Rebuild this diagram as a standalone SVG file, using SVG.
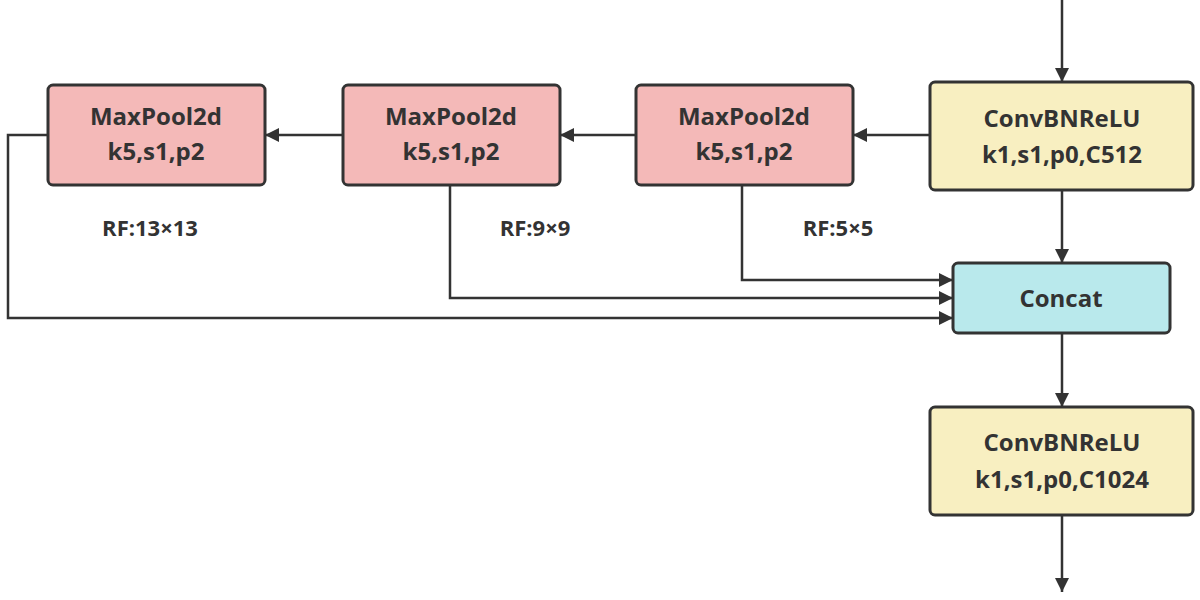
<svg xmlns="http://www.w3.org/2000/svg" width="1200" height="600" viewBox="0 0 1200 600">
<defs>
<marker id="ah" markerWidth="10" markerHeight="10" refX="9" refY="5" orient="auto" markerUnits="userSpaceOnUse"><path d="M0,0 L10,5 L0,10 z" fill="#333"/></marker>
<marker id="ah2" viewBox="0 0 10 10" markerWidth="16" markerHeight="14" refX="10" refY="5" orient="auto" markerUnits="userSpaceOnUse"><path d="M0,0 L10,5 L0,10 z" fill="#333"/></marker>
</defs>
<style>
rect{stroke:#333;stroke-width:3}
.p{fill:#f4b9b8}.y{fill:#f8efc1}.c{fill:#b9e9ec}
text{font-family:"Open Sans","Liberation Sans",sans-serif;font-weight:bold;font-size:24px;fill:#333;text-anchor:middle}
.e{fill:none;stroke:#333;stroke-width:2.5;marker-end:url(#ah2)}
</style>
<rect width="1200" height="600" fill="#fff" style="stroke:none"/>
<g id="mp1"><rect class="p" x="48" y="85" width="217" height="100" rx="5"/><text x="156" y="125">MaxPool2d</text><text x="156" y="160">k5,s1,p2</text></g>
<g id="mp2"><rect class="p" x="343" y="85" width="217" height="100" rx="5"/><text x="451" y="125">MaxPool2d</text><text x="451" y="160">k5,s1,p2</text></g>
<g id="mp3"><rect class="p" x="636" y="85" width="217" height="100" rx="5"/><text x="744" y="125">MaxPool2d</text><text x="744" y="160">k5,s1,p2</text></g>
<g id="cbr1"><rect class="y" x="930" y="82" width="263" height="108" rx="5"/><text x="1062" y="127">ConvBNReLU</text><text x="1062" y="163">k1,s1,p0,C512</text></g>
<g id="concat"><rect class="c" x="953" y="263" width="217" height="70" rx="5"/><text x="1061" y="307">Concat</text></g>
<g id="cbr2"><rect class="y" x="930" y="407" width="263" height="108" rx="5"/><text x="1062" y="451">ConvBNReLU</text><text x="1062" y="488">k1,s1,p0,C1024</text></g>
<g id="labels"><text x="150" y="236" style="font-size:22px">RF:13×13</text><text x="535" y="236" style="font-size:22px">RF:9×9</text><text x="838" y="236" style="font-size:22px">RF:5×5</text></g>
<g id="edges">
<path class="e" d="M1062,0 V82"/>
<path class="e" d="M930,135 H853"/>
<path class="e" d="M636,135 H560"/>
<path class="e" d="M343,135 H265"/>
<path class="e" d="M1062,190 V263"/>
<path class="e" d="M742,185 V280 H953"/>
<path class="e" d="M450,185 V298 H953"/>
<path class="e" d="M48,135 H8 V318 H953"/>
<path class="e" d="M1062,333 V407"/>
<path class="e" d="M1062,515 V592"/>
</g>
</svg>
